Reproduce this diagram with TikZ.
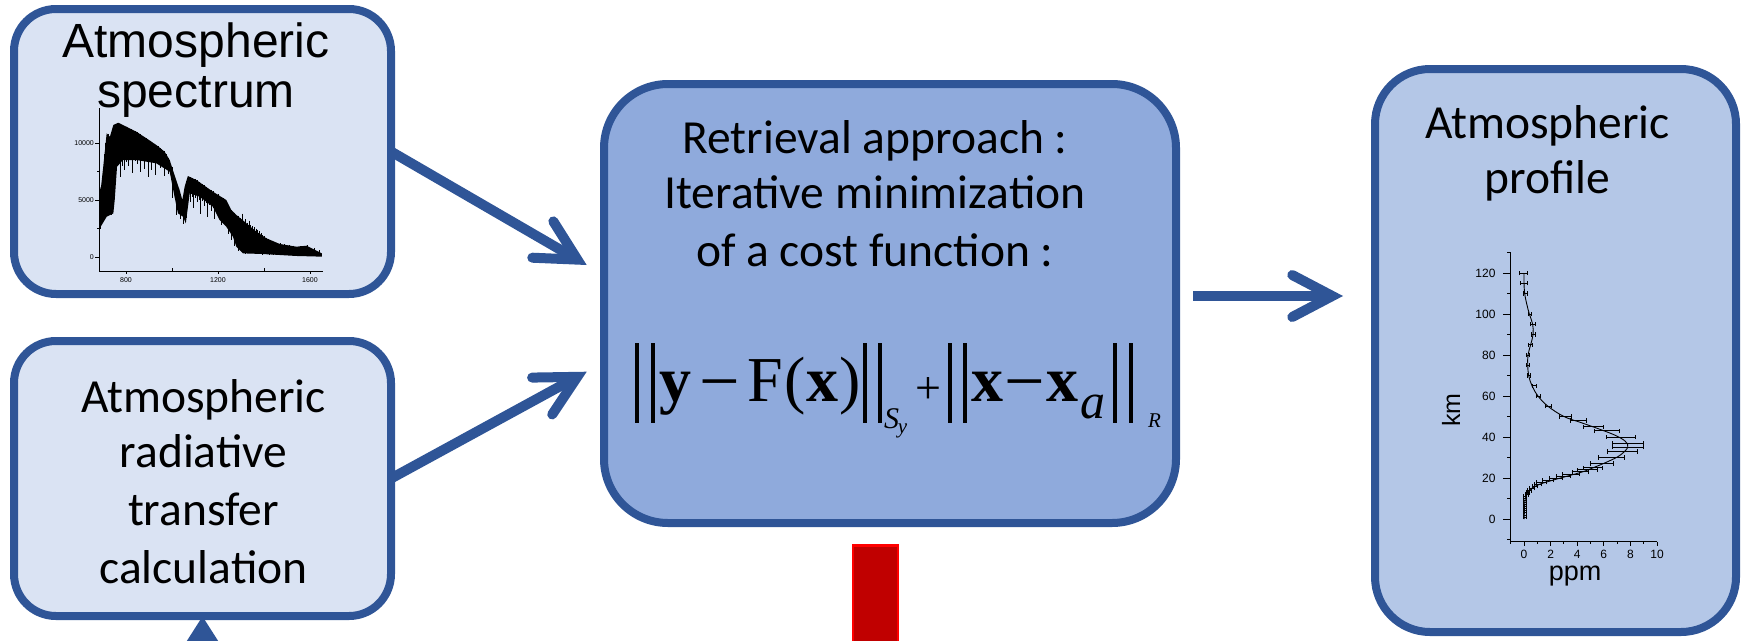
\documentclass[tikz,border=0pt]{standalone}
\usepackage{fontspec}
\setmainfont{Carlito}
\newfontfamily\arialf{Liberation Sans}
\newfontfamily\tmsf{Liberation Serif}
\usetikzlibrary{arrows.meta,calc}
\definecolor{bord}{HTML}{2F5597}
\definecolor{lightf}{HTML}{DAE3F3}
\definecolor{midf}{HTML}{8FAADC}
\definecolor{rightf}{HTML}{B4C7E7}
\definecolor{redf}{HTML}{C00000}
\definecolor{redb}{HTML}{FF0000}
\begin{document}
\begin{tikzpicture}[x=1pt,y=-1pt,
  box/.style={draw=bord, line width=8pt, rounded corners=#1, inner sep=0pt, outer sep=0pt},
  cal/.style={font=\fontsize{47.5}{57}\selectfont, inner sep=0pt, anchor=base},
  ari/.style={font=\arialf\fontsize{48}{57}\selectfont, inner sep=0pt, anchor=base},
  fm/.style={font=\tmsf\fontsize{64}{76}\selectfont, inner sep=0pt, anchor=base},
  fsub/.style={font=\tmsf\fontsize{#1}{#1}\selectfont, inner sep=0pt, anchor=base},
  normbar/.style={line width=4pt, black},
  arr/.style={draw=bord, line width=10pt, -{Straight Barb[length=40pt,width=42pt,line cap=round,line join=miter]}},
  tinylab/.style={font=\arialf\fontsize{7}{8}\selectfont, inner sep=0pt},
  plab/.style={font=\arialf\fontsize{12}{14}\selectfont, inner sep=0pt}
]
\useasboundingbox (0,0) rectangle (1742,640);
\clip (0,0) rectangle (1742,640);

% ---------- boxes ----------
\node[box=42pt, fill=lightf, minimum width=377pt, minimum height=285pt] (spec) at (202.5,151.5) {};
\node[box=42pt, fill=lightf, minimum width=377pt, minimum height=275pt] (rte) at (202.5,478.5) {};
\node[box=64pt, fill=midf, minimum width=572pt, minimum height=439pt] (cent) at (890,303.5) {};
\node[box=55pt, fill=rightf, minimum width=361pt, minimum height=563pt] (prof) at (1555.5,350.5) {};
\node[draw=redb, line width=2.5pt, fill=redf, inner sep=0pt, minimum width=45pt, minimum height=200pt] (redbar) at (875.5,645.5) {};

% ---------- connectors ----------
\coordinate (t1) at (586.7,265);
\coordinate (t2) at (586.7,371.7);
\coordinate (a3s) at (1193,296);
\coordinate (a3e) at (1343,296);
\coordinate (upfrom) at ($(rte.south)+(0,110)$);
\draw[arr] (spec.east) -- (t1);
\draw[arr] (rte.east) -- (t2);
\draw[arr] (a3s) -- (a3e);
\draw[draw=bord, fill=bord, line width=10pt, -{Triangle[length=45pt,width=54pt]}] (upfrom) -- (rte.south);

% ---------- texts ----------
\node[ari] (s1) at (196,57) {Atmospheric};
\node[ari] (s2) at (196,107) {spectrum};
\node[cal] (r1) at (203.5,412) {Atmospheric};
\node[cal] (r2) at (203.5,467) {radiative};
\node[cal] (r3) at (203.5,525) {transfer};
\node[cal] (r4) at (203.5,583) {calculation};
\node[cal] (c1) at (875,153) {Retrieval approach :};
\node[cal] (c2) at (875,208) {Iterative minimization};
\node[cal] (c3) at (875,266) {of a cost function :};
\node[cal] (p1) at (1547.5,138) {Atmospheric};
\node[cal] (p2) at (1547.5,193) {profile};

% ---------- formula ----------
\foreach \bx in {637,652.5,865,880,949.5,965,1114.5,1130.5}
  \draw[normbar] (\bx,343) -- (\bx,423);
\node[fm] (fy) at (675,401) {\bfseries y};
\node[fsub=72] (fm1) at (719.5,405) {−};
\node[fm] (fF) at (765,401) {F};
\node[fm] (flp) at (795,401) {(};
\node[fm] (fx1) at (822.5,401) {\bfseries x};
\node[fm] (frp) at (850,401) {)};
\node[fsub=30] (fS) at (891.5,428) {\itshape S};
\node[fsub=21] (fsy) at (902.5,433) {\itshape y};
\node[fsub=46] (fplus) at (928.5,403) {+};
\node[fm] (fx2) at (987,401) {\bfseries x};
\node[fsub=72] (fm2) at (1025,405) {−};
\node[fm] (fx3) at (1062.5,401) {\bfseries x};
\node[fsub=50] (fa) at (1093,418) {\itshape a};
\node[fsub=21] (fR) at (1154.5,427) {\itshape R};

% ---------- spectrum plot ----------
\begin{scope}[shift={(-58,257)}, x=0.23pt, y=0.0114pt]
  \fill[black] (684,6465) -- (690,5877) -- (701,7920) -- (716,10850) -- (730,10550) -- (745,11580) -- (766,11780) -- (802,11430) -- (845,10990) -- (889,10410) -- (932,9825) -- (968,9240) -- (990,8510) -- (1011,7190) -- (1033,5880) -- (1045,5000) -- (1055,6170) -- (1069,7105) -- (1106,6755) -- (1178,5730) -- (1236,5000) -- (1258,4120) -- (1280,3685) -- (1324,2955) -- (1367,2220) -- (1411,1635) -- (1469,1140) -- (1541,905) -- (1585,990) -- (1614,700) -- (1652,320)
  -- (1652,30) -- (1541,90) -- (1396,260) -- (1309,320) -- (1280,905) -- (1265,1780) -- (1236,2660) -- (1207,3245) -- (1178,4410) -- (1120,5290) -- (1077,5585) -- (1060,2955) -- (1048,3535) -- (1026,3830) -- (1011,5290) -- (990,7480) -- (932,8220) -- (845,8510) -- (787,8510) -- (761,7920) -- (751,5000) -- (745,3830) -- (716,3535) -- (690,2660) -- (684,2660) -- cycle;
  \foreach \w/\t/\b in {688/6000/2500, 696/7000/3200, 706/9000/3600, 712/10000/3400, 722/10800/3900, 736/10700/3700, 742/11200/4200, 775/11700/7000, 785/11600/8000, 795/11450/7600, 803/11400/8300, 812/11300/8000, 822/11200/8600, 830/11150/7400, 840/11050/8400, 848/10950/8200, 855/10900/8700, 862/10800/7500, 872/10650/8500, 880/10500/7700, 888/10400/8600, 896/10300/7000, 904/10200/8300, 912/10100/7600, 922/9950/8500, 930/9850/7200, 940/9700/8400, 948/9550/7800, 956/9450/8300, 965/9300/7100, 975/9000/7700, 985/8700/7300, 1000/7900/5200, 1020/6500/3700, 1038/5500/3300, 1050/5400/2900, 1062/6700/3400, 1072/7000/5000, 1080/7000/4800, 1088/6900/5300, 1095/6850/4300, 1102/6800/5200, 1110/6750/4800, 1118/6600/5000, 1125/6500/3800, 1132/6400/4900, 1140/6300/4500, 1148/6150/4700, 1155/6000/3500, 1162/5900/4600, 1170/5850/4000, 1178/5750/4300, 1185/5650/3300, 1192/5550/4200, 1200/5500/3700, 1208/5350/3900, 1215/5250/2800, 1222/5150/3500, 1230/5100/3300, 1245/4600/2000, 1260/4100/1500, 1272/3900/1000, 1290/3600/500, 1298/3400/900, 1305/3800/600, 1312/3200/800, 1320/3300/300, 1328/3000/700, 1335/3200/600, 1342/2800/500, 1350/2700/400, 1358/2600/600, 1365/2500/300, 1372/2400/500, 1380/2300/400, 1388/2100/300, 1395/1900/200, 1402/1800/400, 1410/1700/300, 1418/1600/250, 1425/1400/200, 1432/1350/300, 1440/1300/200, 1455/1250/150, 1470/1200/200, 1490/1100/150, 1510/1050/200, 1530/1000/150, 1560/950/200, 1590/1050/300, 1620/800/150, 1640/600/100}
    \draw[line width=0.8pt] (\w,\t) -- (\w,\b);
  \draw[line width=1pt] (683,13070) -- (683,-1228) -- (1655,-1228);
  \foreach \k in {0,5000,10000} \draw[line width=0.7pt] (683,\k) -- ++(-4pt,0);
  \foreach \k in {2500,7500} \draw[line width=0.7pt] (683,\k) -- ++(-2.5pt,0);
  \foreach \w in {800,1200,1600} \draw[line width=0.7pt] (\w,-1228) -- ++(0,-3pt);
  \foreach \w in {1000,1400} \draw[line width=0.7pt] (\w,-1228) -- ++(0,3pt);
  \foreach \k in {0,5000,10000}
    \node[tinylab, anchor=base east, xshift=-5pt, yshift=-2.5pt] (sy\k) at (683,\k) {\k};
  \foreach \w in {800,1200,1600}
    \node[tinylab, anchor=base, yshift=-11pt] (sx\w) at (\w,-1228) {\w};
\end{scope}

% ---------- profile plot ----------
\begin{scope}[shift={(1524,519)}, x=13.3pt, y=2.05pt]
  \draw[line width=1.3pt] (-1,130) -- (-1,-11) -- (10,-11);
  \foreach \k in {0,20,...,120} \draw[line width=1pt] (-1,\k) -- ++(-8pt,0);
  \foreach \k in {-10,10,30,...,130} \draw[line width=1pt] (-1,\k) -- ++(-4pt,0);
  \foreach \p in {0,2,...,10} \draw[line width=1pt] (\p,-11) -- ++(0,-4pt);
  \foreach \p in {-1,1,3,...,9} \draw[line width=1pt] (\p,-11) -- ++(0,-2.5pt);
  \foreach \k in {0,20,...,120}
    \node[plab, anchor=base east, xshift=-15pt, yshift=-4pt] (py\k) at (-1,\k) {\k};
  \foreach \p in {0,2,...,10}
    \node[plab, anchor=base, yshift=-17pt] (px\p) at (\p,-11) {\p};
  \draw[line width=0.9pt] plot[smooth, tension=0.6] coordinates {(0.02,0) (0.03,5) (0.1,10) (0.3,13) (0.6,15) (1.2,17) (2.2,19) (3.3,21) (4.4,23) (5.2,25) (6.3,28) (7.2,31) (7.8,35) (7.6,38) (6.8,41) (5.6,44) (4.3,47) (3.0,50) (1.8,55) (1.05,60) (0.6,65) (0.35,70) (0.28,75) (0.3,80) (0.5,85) (0.68,90) (0.65,95) (0.4,100) (0.2,105) (0.05,110) (0,115) (0,120)};
  \foreach \k/\lo/\hi in {120/-0.35/0.25, 115/-0.3/0.25, 110/-0.05/0.25, 100/0.35/0.55, 95/0.5/0.83, 90/0.55/0.83, 85/0.35/0.6, 80/0.2/0.4, 75/0.2/0.4, 70/0.25/0.45, 65/0.6/0.9, 60/0.9/1.25, 55/1.58/2.08, 50/2.65/3.58, 48/3.5/4.7, 45/4.5/6.0, 43/5.26/7.17, 40/6.2/8.4, 37/6.64/9.0, 35/6.64/9.0, 33/6.3/8.5, 30/5.6/7.55, 27/4.97/6.7, 25/4.5/5.9, 24/4.0/5.5, 23/3.6/4.85, 22/2.9/4.2, 21/2.4/3.5, 20/1.9/2.9, 19/1.4/2.2, 18/0.9/1.7, 17/0.8/1.3, 16/0.6/1.0, 15/0.4/0.75, 14/0.25/0.55, 13/0.15/0.4, 12/0.1/0.3, 11/-0.05/0.15, 10/-0.05/0.15, 9/-0.05/0.15, 8/-0.05/0.15, 7/-0.05/0.15, 6/-0.05/0.15, 5/-0.05/0.15, 4/-0.05/0.15, 3/-0.05/0.15, 2/-0.05/0.15, 1/-0.05/0.15}
  {
    \draw[line width=0.8pt] (\lo,\k) -- (\hi,\k);
    \draw[line width=0.8pt] (\lo,\k) ++(0,-2.2pt) -- ++(0,4.4pt);
    \draw[line width=0.8pt] (\hi,\k) ++(0,-2.2pt) -- ++(0,4.4pt);
  }
\end{scope}
\node[rotate=90, font=\arialf\fontsize{25}{30}\selectfont, inner sep=0pt] (kmlab) at (1451,410) {km};
\node[font=\arialf\fontsize{27}{32}\selectfont, inner sep=0pt, anchor=base] (ppmlab) at (1575,580) {ppm};
\end{tikzpicture}
\end{document}
